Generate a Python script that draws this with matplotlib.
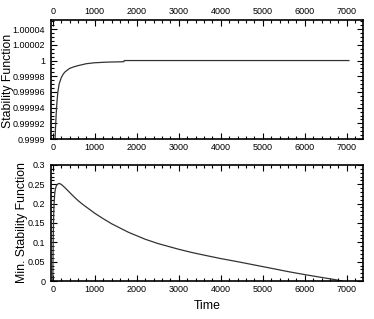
import matplotlib
matplotlib.use('Agg')
import matplotlib.pyplot as plt
from matplotlib.ticker import MultipleLocator, FuncFormatter

plt.rcParams['font.family'] = ['Liberation Sans', 'DejaVu Sans']
narrow = ['Liberation Sans Narrow', 'Liberation Sans', 'DejaVu Sans']

# stability function vs time
t_stab = [50, 60, 70, 80, 100, 120, 150, 200, 250, 300, 400, 500, 600, 800,
          1000, 1300, 1690, 1700, 3000, 5000, 7050]
stab = [0.99989, 0.99991, 0.99992, 0.999932, 0.999948, 0.99996, 0.99997,
        0.999978, 0.999983, 0.999986, 0.99999, 0.999992, 0.9999935, 0.999996,
        0.9999972, 0.999998, 0.9999985, 1.0, 1.0, 1.0, 1.0]

# minimum stability function vs time
t_min = [0, 5, 10, 20, 30, 45, 60, 80, 100, 125, 150, 180, 220, 300, 400, 500,
         600, 700, 800, 900, 1000, 1200, 1400, 1600, 1800, 2000, 2200, 2500,
         2800, 3000, 3300, 3600, 4000, 4400, 4800, 5200, 5600, 6000, 6400,
         6700, 6900]
min_stab = [0.0, 0.06, 0.11, 0.17, 0.20, 0.225, 0.237, 0.245, 0.249, 0.251,
            0.252, 0.251, 0.248, 0.240, 0.229, 0.218, 0.208, 0.199, 0.191,
            0.183, 0.175, 0.161, 0.148, 0.137, 0.126, 0.117, 0.108, 0.097,
            0.088, 0.082, 0.074, 0.067, 0.058, 0.050, 0.0415, 0.033, 0.0244,
            0.0166, 0.0093, 0.004, 0.0]

fig = plt.figure(figsize=(3.74, 3.19), dpi=100)
ax1 = fig.add_axes([0.1356, 0.564, 0.8344, 0.373])
ax2 = fig.add_axes([0.1356, 0.119, 0.8344, 0.364])

ax1.plot(t_stab, stab, color='#333333', lw=0.9)
ax2.plot(t_min, min_stab, color='#333333', lw=0.9)

for ax in (ax1, ax2):
    ax.set_xlim(-50, 7380)
    ax.xaxis.set_major_locator(MultipleLocator(1000))
    ax.xaxis.set_minor_locator(MultipleLocator(200))
    ax.tick_params(which='both', direction='in', top=True, right=True,
                   labelsize=6.5, pad=3, width=0.8, labelfontfamily=narrow)
    ax.tick_params(which='major', length=4)
    ax.tick_params(which='minor', length=2)
    ax.tick_params(axis='y', pad=4)
    for s in ax.spines.values():
        s.set_linewidth(1.2)

# top panel
ax1.set_ylim(0.9999, 1.0000515)
ax1.yaxis.set_major_locator(MultipleLocator(0.00002))
ax1.yaxis.set_minor_locator(MultipleLocator(0.000005))
ax1.yaxis.set_major_formatter(FuncFormatter(lambda v, p: '%.6g' % v))
ax1.tick_params(labeltop=True)
ax1.set_ylabel('Stability Function', fontsize=8.8)
ax1.yaxis.set_label_coords(-0.118, 0.49)

# bottom panel
ax2.set_ylim(0, 0.3)
ax2.yaxis.set_major_locator(MultipleLocator(0.05))
ax2.yaxis.set_minor_locator(MultipleLocator(0.01))
ax2.yaxis.set_major_formatter(FuncFormatter(lambda v, p: '%g' % round(v, 3)))
ax2.set_ylabel('Min. Stability Function', fontsize=8.8)
ax2.yaxis.set_label_coords(-0.072, 0.5)
ax2.set_xlabel('Time', fontsize=8.8, family=narrow, labelpad=4)

fig.savefig('out.png', dpi=100)
